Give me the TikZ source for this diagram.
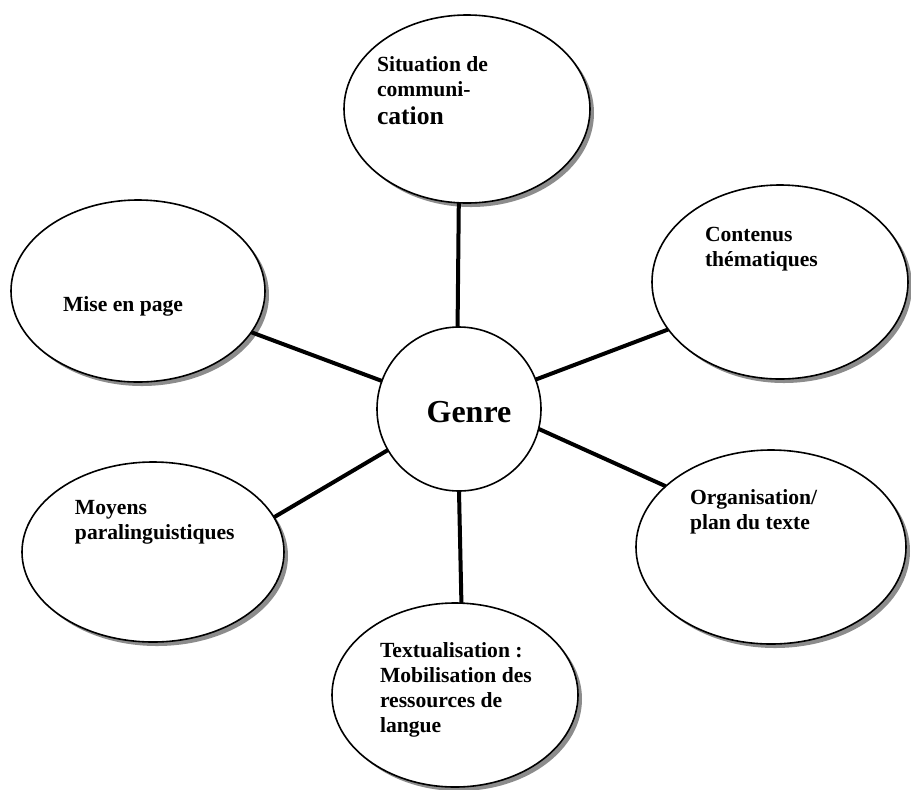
\documentclass[tikz,border=0pt]{standalone}
\usepackage{fontspec}
\setmainfont{Liberation Serif}
\usetikzlibrary{shapes.geometric,shadows}

\tikzset{
  bubble/.style={ellipse, draw=black, line width=0.8pt, fill=white,
    drop shadow={shadow xshift=2pt, shadow yshift=-2pt, fill=black!45, opacity=1}},
  label/.style={anchor=north west, align=left, font=\bfseries\fontsize{10.8}{12.5}\selectfont},
  spoke/.style={draw=black, line width=2pt},
}

\begin{document}
\begin{tikzpicture}[y=0.5pt, x=0.5pt, yscale=-1, inner sep=0pt, outer sep=0pt]
\useasboundingbox (0,0) rectangle (911,789);
% bubbles
\node[bubble, minimum width=123pt, minimum height=94pt] (situation) at (467,109) {};
\node[bubble, minimum width=128pt, minimum height=97pt] (contenus) at (780,282) {};
\node[bubble, minimum width=127pt, minimum height=91pt] (mise) at (138,291) {};
\node[bubble, minimum width=131pt, minimum height=90pt] (moyens) at (153,552) {};
\node[bubble, minimum width=135pt, minimum height=97pt] (organisation) at (771,547) {};
\node[bubble, minimum width=123pt, minimum height=92pt] (textualisation) at (455,695) {};
\node[circle, draw=black, line width=0.8pt, fill=white, minimum size=82pt] (genre) at (459,409) {};

% texts
\path (377,57) node[label] (text-situation)
  {Situation de\\communi-\\[1.5pt]{\fontsize{12.8}{13}\selectfont cation}};
\path (705,227) node[label] (text-contenus) {Contenus\\th\'ematiques};
\path (63,297) node[label] (text-mise) {Mise en page};
\path (75,500) node[label] (text-moyens) {Moyens\\paralinguistiques};
\path (690,489) node[label] (text-organisation) {Organisation/\\plan du texte};
\path (380,642) node[label] (text-textualisation)
  {Textualisation :\\Mobilisation des\\ressources de\\langue};
\path (469,412) node[font=\bfseries\fontsize{16}{18}\selectfont] (text-genre) {Genre};

% spokes
\path[spoke] (genre.91) -- (situation.-95);
\path[spoke] (genre.21) -- (contenus.203);
\path[spoke] (genre.-14) -- (organisation.150);
\path[spoke] (genre.-90) -- (textualisation.86);
\path[spoke] (genre.210) -- (moyens.16);
\path[spoke] (genre.160) -- (mise.-20);

\end{tikzpicture}
\end{document}
